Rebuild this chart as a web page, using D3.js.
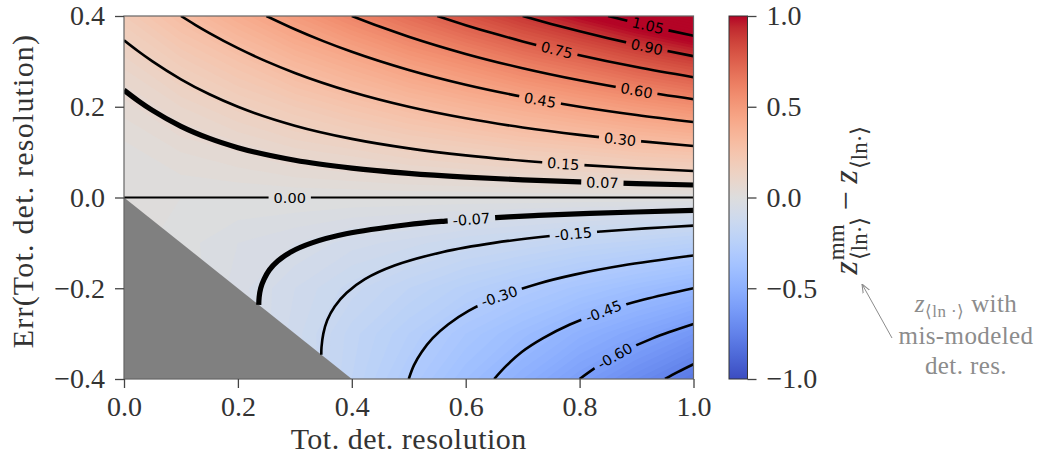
<!DOCTYPE html>
<html>
<head>
<meta charset="utf-8">
<script src="https://cdn.jsdelivr.net/npm/d3@7"></script>
<style>
body{margin:0;background:#fff}
svg text{font-family:"Liberation Serif",serif;fill:#333}
</style>
</head>
<body>
<svg id="chart" width="1042" height="455"></svg>
<script>
// ---- data ----
var xTicks = [0, 0.2, 0.4, 0.6, 0.8, 1.0];
var yTicks = [-0.4, -0.2, 0, 0.2, 0.4];
var cbTicks = [-1.0, -0.5, 0, 0.5, 1.0];

// field z(x,y) on a coarse grid, rows from y=0.4 down to y=-0.4
var gridX = [0, 0.1, 0.2, 0.3, 0.4, 0.5, 0.6, 0.7, 0.8, 0.9, 1.0];
var gridY = [0.4, 0.3, 0.2, 0.1, 0, -0.1, -0.2, -0.3, -0.4];
var gridZ = [
	[0.20, 0.30, 0.40, 0.50, 0.60, 0.70, 0.80, 0.90, 1.00, 1.10, 1.20],
	[0.11, 0.19, 0.26, 0.34, 0.41, 0.49, 0.56, 0.64, 0.71, 0.79, 0.86],
	[0.05, 0.10, 0.15, 0.20, 0.25, 0.30, 0.35, 0.40, 0.45, 0.50, 0.55],
	[0.01, 0.04, 0.06, 0.09, 0.11, 0.14, 0.16, 0.19, 0.21, 0.24, 0.26],
	[0.00, 0.00, 0.00, 0.00, 0.00, 0.00, 0.00, 0.00, 0.00, 0.00, 0.00],
	[0.01, -0.01, -0.04, -0.06, -0.09, -0.11, -0.14, -0.16, -0.19, -0.21, -0.24],
	[0.05, 0.00, -0.05, -0.10, -0.15, -0.20, -0.25, -0.30, -0.35, -0.40, -0.45],
	[0.11, 0.04, -0.04, -0.11, -0.19, -0.26, -0.34, -0.41, -0.49, -0.56, -0.64],
	[0.20, 0.10, 0.00, -0.10, -0.20, -0.30, -0.40, -0.50, -0.60, -0.70, -0.80]
];

// invalid region (resolution + error < 0)
var maskTri = [[0, 0], [0.4, -0.4], [0, -0.4]];

// contour lines, [x, y]
var c_n075 = [[0.95,-0.4],[0.972,-0.385],[1.0,-0.3675]];
var c_n060 = [[0.8,-0.4],[0.834,-0.37],[0.876,-0.34],[0.929,-0.31],[1.0,-0.279]];
var c_n045 = [[0.65,-0.4],[0.672,-0.37],[0.699,-0.34],[0.736,-0.31],[0.783,-0.28],[0.845,-0.25],[0.913,-0.225],[1.0,-0.2]];
var c_n030 = [[0.5,-0.4],[0.509,-0.37],[0.523,-0.34],[0.542,-0.31],[0.569,-0.28],[0.605,-0.25],[0.656,-0.22],[0.727,-0.19],[0.791,-0.17],[0.875,-0.15],[1.0,-0.128]];
var c_n015 = [[0.3464,-0.3464],[0.3468,-0.33],[0.35,-0.30],[0.357,-0.27],[0.37,-0.24],[0.391,-0.21],[0.423,-0.18],[0.475,-0.15],[0.56,-0.12],[0.65,-0.10],[0.748,-0.085],[0.838,-0.075],[0.916,-0.068],[1.0,-0.062]];
var c_n007 = [[0.2366,-0.2366],[0.2373,-0.22],[0.24,-0.20],[0.246,-0.18],[0.255,-0.16],[0.27,-0.14],[0.293,-0.12],[0.33,-0.10],[0.39,-0.08],[0.497,-0.06],[0.564,-0.052],[0.645,-0.045],[0.72,-0.04],[0.818,-0.035],[1.0,-0.0284]];
var c_000 = [[0,0],[1,0]];
var c_007 = [[0,0.2366],[0.025,0.213],[0.05,0.1919],[0.1,0.1569],[0.15,0.1302],[0.2,0.1098],[0.3,0.0821],[0.4,0.0648],[0.5,0.0532],[0.6,0.045],[0.7,0.0389],[0.8,0.0343],[0.9,0.0306],[1.0,0.0276]];
var c_015 = [[0,0.3464],[0.025,0.3223],[0.05,0.30],[0.1,0.2606],[0.15,0.2275],[0.2,0.20],[0.3,0.1583],[0.4,0.1292],[0.5,0.1083],[0.6,0.0928],[0.7,0.081],[0.8,0.0718],[0.9,0.0644],[1.0,0.0583]];
var c_030 = [[0.1,0.4],[0.125,0.3806],[0.15,0.3624],[0.2,0.3292],[0.25,0.30],[0.3,0.2745],[0.4,0.2325],[0.5,0.20],[0.6,0.1746],[0.7,0.1544],[0.8,0.1381],[0.9,0.1247],[1.0,0.1136]];
var c_045 = [[0.25,0.4],[0.3,0.3708],[0.35,0.3446],[0.4,0.3211],[0.5,0.281],[0.6,0.2485],[0.7,0.222],[0.8,0.20],[0.9,0.1817],[1.0,0.1662]];
var c_060 = [[0.4,0.4],[0.45,0.3761],[0.5,0.3544],[0.6,0.3165],[0.7,0.2849],[0.8,0.2583],[0.9,0.2358],[1.0,0.2166]];
var c_075 = [[0.55,0.4],[0.6,0.3798],[0.65,0.3612],[0.7,0.344],[0.8,0.3136],[0.9,0.2874],[1.0,0.2649]];
var c_090 = [[0.7,0.4],[0.75,0.3825],[0.8,0.3662],[0.85,0.351],[0.9,0.3369],[0.95,0.3238],[1.0,0.3115]];
var c_105 = [[0.85,0.4],[0.9,0.3845],[0.95,0.37],[1.0,0.3565]];

var levels = [-0.75, -0.60, -0.45, -0.30, -0.15, -0.07, 0.00, 0.07, 0.15, 0.30, 0.45, 0.60, 0.75, 0.90, 1.05];
var levelLines = [c_n075, c_n060, c_n045, c_n030, c_n015, c_n007, c_000, c_007, c_015, c_030, c_045, c_060, c_075, c_090, c_105];
var thickLevels = [-0.07, 0.07];

// inline label spots [level, x, y]
var labelSpots = [
	[1.05, 0.92, 0.379], [0.90, 0.918, 0.332], [0.75, 0.76, 0.3252], [0.60, 0.90, 0.2358],
	[0.45, 0.7305, 0.2148], [0.30, 0.871, 0.1283], [0.15, 0.7714, 0.0742], [0.07, 0.84, 0.0327],
	[0.00, 0.291, 0], [-0.07, 0.61, -0.048], [-0.15, 0.789, -0.080], [-0.30, 0.659, -0.218],
	[-0.45, 0.842, -0.251], [-0.60, 0.862, -0.349]
];

// coolwarm colormap stops
var cwPos = [0, 0.03125, 0.0625, 0.09375, 0.125, 0.15625, 0.1875, 0.21875, 0.25, 0.28125, 0.3125, 0.34375, 0.375, 0.40625, 0.4375, 0.46875, 0.5,
	0.53125, 0.5625, 0.59375, 0.625, 0.65625, 0.6875, 0.71875, 0.75, 0.78125, 0.8125, 0.84375, 0.875, 0.90625, 0.9375, 0.96875, 1];
var cwColors = ["#3b4cc0","#445acc","#4d68d7","#5775e1","#6282ea","#6c8ef1","#779af7","#82a5fb","#8db0fe","#98b9ff","#a3c2ff","#aec9fd",
	"#b8d0f9","#c2d5f4","#ccd9ee","#d5dbe6","#dddddd","#e5d8d1","#ecd3c5","#f1ccb9","#f5c4ad","#f7bba0","#f7b194","#f7a687","#f49a7b",
	"#f18d6f","#ec7f63","#e57058","#de604d","#d55042","#cb3e38","#c0282f","#b40426"];

// ---- layout ----
var svg = d3.select("#chart");
var x = d3.scaleLinear().domain([0, 1]).range([124, 693.5]);
var y = d3.scaleLinear().domain([-0.4, 0.4]).range([379, 16]);
var color = d3.scaleLinear().domain(cwPos.map(function(p){ return -1 + 2 * p; })).range(cwColors).clamp(true);
var fmt = function(v){ return d3.format(".1f")(v); };

var defs = svg.append("defs");
defs.append("clipPath").attr("id", "plotclip").append("rect")
	.attr("x", x(0)).attr("y", y(0.4)).attr("width", x(1) - x(0)).attr("height", y(-0.4) - y(0.4));

// background field
var nx = gridX.length, ny = gridY.length;
var flat = [].concat.apply([], gridZ);
var bands = d3.contours().size([nx, ny]).thresholds(d3.range(-1.0, 1.25, 0.02))(flat);
var gx = d3.scaleLinear().domain([0.5, nx - 0.5]).range([x(gridX[0]), x(gridX[nx - 1])]);
var gy = d3.scaleLinear().domain([0.5, ny - 0.5]).range([y(gridY[0]), y(gridY[ny - 1])]);
var gridPath = d3.geoPath(d3.geoTransform({point: function(px, py){ this.stream.point(gx(px), gy(py)); }}));

var plot = svg.append("g").attr("clip-path", "url(#plotclip)");
plot.append("g").selectAll("path").data(bands).join("path")
	.attr("d", gridPath)
	.attr("fill", function(d){ return color(d.value + 0.01); });

plot.append("path")
	.attr("d", d3.line().x(function(d){ return x(d[0]); }).y(function(d){ return y(d[1]); })(maskTri) + "Z")
	.attr("fill", "#808080");

// label gaps
var lineFor = function(lv){ return levelLines[levels.indexOf(lv)]; };
function labelAngle(lv, lx){
	var pts = lineFor(lv);
	for(var i = 0; i < pts.length - 1; i++){
		if(pts[i][0] <= lx && lx <= pts[i+1][0]){
			var dx = x(pts[i+1][0]) - x(pts[i][0]), dy = y(pts[i+1][1]) - y(pts[i][1]);
			return Math.atan2(dy, dx) * 180 / Math.PI;
		}
	}
	return 0;
}

var lblG = svg.append("g");
var lblInfo = [];
labelSpots.forEach(function(s){
	var ang = labelAngle(s[0], s[1]);
	var t = lblG.append("text")
		.attr("transform", "translate(" + x(s[1]) + "," + y(s[2]) + ") rotate(" + ang + ")")
		.attr("text-anchor", "middle")
		.attr("dy", "0.36em")
		.style("font-family", "'DejaVu Sans', sans-serif")
		.style("font-size", "14.5px")
		.style("fill", "#000")
		.text(d3.format(".2f")(s[0]).replace("\u2212", "-"));
	lblInfo.push({s: s, ang: ang, w: t.node().getComputedTextLength()});
});

var mask = defs.append("mask").attr("id", "lblmask").attr("maskUnits", "userSpaceOnUse")
	.attr("x", 0).attr("y", 0).attr("width", 1042).attr("height", 455);
mask.append("rect").attr("width", 1042).attr("height", 455).attr("fill", "#fff");
lblInfo.forEach(function(o){
	mask.append("rect")
		.attr("transform", "translate(" + x(o.s[1]) + "," + y(o.s[2]) + ") rotate(" + o.ang + ")")
		.attr("x", -o.w / 2 - 5).attr("y", -9).attr("width", o.w + 10).attr("height", 18)
		.attr("fill", "#000");
});

var line = d3.line().x(function(d){ return x(d[0]); }).y(function(d){ return y(d[1]); });
var lineG = plot.append("g").attr("mask", "url(#lblmask)");
levels.forEach(function(lv, i){
	var curve = lv > 0 ? d3.curveMonotoneX : d3.curveCatmullRom.alpha(0.5);
	lineG.append("path")
		.attr("d", line.curve(curve)(levelLines[i]))
		.attr("fill", "none")
		.attr("stroke", "#000")
		.attr("stroke-width", thickLevels.indexOf(lv) >= 0 ? 5.2 : (lv === 0 ? 2.2 : 2.6));
});
lblG.raise();

// frame
svg.append("rect")
	.attr("x", x(0)).attr("y", y(0.4)).attr("width", x(1) - x(0)).attr("height", y(-0.4) - y(0.4))
	.attr("fill", "none").attr("stroke", "#666").attr("stroke-width", 1.2);

// axes
var xAxis = svg.append("g").attr("transform", "translate(0," + y(-0.4) + ")")
	.call(d3.axisBottom(x).tickValues(xTicks).tickFormat(fmt).tickSize(9).tickPadding(8));
var yAxis = svg.append("g").attr("transform", "translate(" + x(0) + ",0)")
	.call(d3.axisLeft(y).tickValues(yTicks).tickFormat(fmt).tickSize(9).tickPadding(10));
[xAxis, yAxis].forEach(function(a){
	a.select(".domain").remove();
	a.selectAll(".tick line").attr("stroke", "#444").attr("stroke-width", 1.3);
	a.selectAll(".tick text").style("font-size", "28px").style("font-family", "'Liberation Serif', serif").attr("fill", "#333");
});

svg.append("text").attr("x", (x(0) + x(1)) / 2).attr("y", 449)
	.attr("text-anchor", "middle").style("font-size", "30px").style("letter-spacing", "0.5px")
	.text("Tot. det. resolution");
svg.append("text").attr("transform", "translate(33," + 191 + ") rotate(-90)")
	.attr("text-anchor", "middle").style("font-size", "30px").style("letter-spacing", "1.2px")
	.text("Err(Tot. det. resolution)");

// colorbar
var cb = {x: 729, w: 18.5};
var cy = d3.scaleLinear().domain([-1, 1]).range([379, 16]);
var grad = defs.append("linearGradient").attr("id", "cwgrad").attr("x1", 0).attr("y1", 1).attr("x2", 0).attr("y2", 0);
cwPos.forEach(function(p, i){ grad.append("stop").attr("offset", p).attr("stop-color", cwColors[i]); });
svg.append("rect").attr("x", cb.x).attr("y", cy(1)).attr("width", cb.w).attr("height", cy(-1) - cy(1))
	.attr("fill", "url(#cwgrad)").attr("stroke", "#333").attr("stroke-width", 1);
var cAxis = svg.append("g").attr("transform", "translate(" + (cb.x + cb.w) + ",0)")
	.call(d3.axisRight(cy).tickValues(cbTicks).tickFormat(fmt).tickSize(9).tickPadding(10));
cAxis.select(".domain").remove();
cAxis.selectAll(".tick line").attr("stroke", "#444").attr("stroke-width", 1.3);
cAxis.selectAll(".tick text").style("font-size", "28px").style("font-family", "'Liberation Serif', serif").attr("fill", "#333");

// colorbar label  z^mm_<ln.> - z_<ln.>
var cbl = svg.append("g").attr("transform", "translate(857,200) rotate(-90)");
var cx = 0;
function put(str, size, dy, italic){
	var t = cbl.append("text").attr("x", cx).attr("y", dy)
		.style("font-size", size + "px").style("font-style", italic ? "italic" : "normal").text(str);
	return t.node().getComputedTextLength();
}
cx += put("z", 34, 0, true) + 1;
var wSup = put("mm", 23, -13, false);
var wSub = put("\u27E8ln\u00B7\u27E9", 23, 10, false);
cx += Math.max(wSup, wSub) + 6;
cx += put("\u2212", 34, 0, false) + 8;
cx += put("z", 34, 0, true) + 1;
cx += put("\u27E8ln\u00B7\u27E9", 23, 10, false);
cbl.selectAll("text").attr("transform", "translate(" + (-cx / 2) + ",0)");

// annotation (one text block, three lines)
var ann = svg.append("text").attr("text-anchor", "middle").style("font-size", "25px")
	.style("letter-spacing", "0.4px").style("fill", "#8c8c8c");
ann.append("tspan").attr("x", 966).attr("y", 312).style("font-style", "italic").text("z");
ann.append("tspan").attr("dy", 5).style("font-size", "17px").text("\u27E8ln \u00B7\u27E9");
ann.append("tspan").attr("dy", -5).text(" with");
ann.append("tspan").attr("x", 966).attr("y", 344).text("mis-modeled");
ann.append("tspan").attr("x", 966).attr("y", 374).text("det.  res.");

defs.append("marker").attr("id", "ahead").attr("viewBox", "0 0 10 10").attr("refX", 10).attr("refY", 5)
	.attr("markerWidth", 9).attr("markerHeight", 9).attr("markerUnits", "userSpaceOnUse").attr("orient", "auto")
	.append("path").attr("d", "M0,1 L10,5 L0,9").attr("fill", "none").attr("stroke", "#8c8c8c").attr("stroke-width", 1.2);
svg.append("line").attr("x1", 892).attr("y1", 338).attr("x2", 862).attr("y2", 284)
	.attr("stroke", "#8c8c8c").attr("stroke-width", 1).attr("marker-end", "url(#ahead)");
</script>
</body>
</html>
